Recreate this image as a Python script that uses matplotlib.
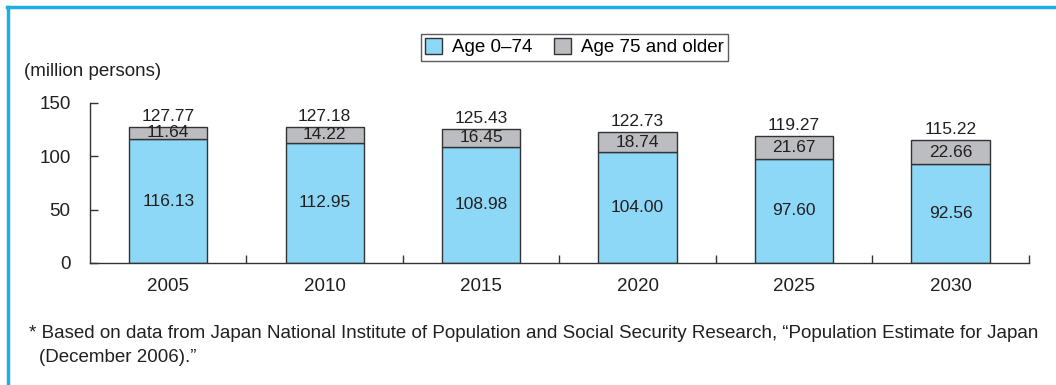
import matplotlib.pyplot as plt
from matplotlib.lines import Line2D
from matplotlib.patches import Patch
import numpy as np

years = ['2005', '2010', '2015', '2020', '2025', '2030']
age_0_74 = [116.13, 112.95, 108.98, 104.00, 97.60, 92.56]
age_75_up = [11.64, 14.22, 16.45, 18.74, 21.67, 22.66]
totals = [127.77, 127.18, 125.43, 122.73, 119.27, 115.22]

blue = '#8DD8F7'
gray = '#BCBDC0'
edge = '#333333'
txt = '#231F20'

plt.rcParams['font.family'] = ['Liberation Sans', 'DejaVu Sans']

fig = plt.figure(figsize=(10.56, 3.85), dpi=100)
ax = fig.add_axes([0.0852, 0.3169, 0.8890, 0.4156])

x = np.arange(len(years))
ax.bar(x, age_0_74, width=0.5, color=blue, edgecolor=edge, linewidth=1.0)
ax.bar(x, age_75_up, width=0.5, bottom=age_0_74, color=gray, edgecolor=edge, linewidth=1.0)

# labels inside and above bars
for i in range(len(years)):
    ax.text(x[i], age_0_74[i] / 2, f'{age_0_74[i]:.2f}', ha='center', va='center',
            fontsize=12.5, color=txt)
    ax.text(x[i], age_0_74[i] + age_75_up[i] / 2, f'{age_75_up[i]:.2f}', ha='center',
            va='center', fontsize=12.5, color=txt)
    ax.text(x[i], totals[i] + 3, f'{totals[i]:.2f}', ha='center', va='bottom',
            fontsize=12.5, color=txt)

ax.set_xlim(-0.5, 5.5)
ax.set_ylim(0, 150)
ax.set_yticks([0, 50, 100, 150])
ax.set_xticks(x)
ax.set_xticklabels(years)
ax.set_xticks(np.arange(0.5, 6, 1), minor=True)
ax.tick_params(axis='x', which='major', length=0, pad=11, labelsize=13.5, labelcolor=txt)
ax.tick_params(axis='x', which='minor', direction='in', length=6, width=1, color=edge)
ax.tick_params(axis='y', direction='in', length=6, width=1, color=edge, pad=14,
               labelsize=13.5, labelcolor=txt)
for s in ['top', 'right']:
    ax.spines[s].set_visible(False)
for s in ['left', 'bottom']:
    ax.spines[s].set_color(edge)
    ax.spines[s].set_linewidth(1)

fig.text(0.023, 0.815, '(million persons)', fontsize=13.5, color=txt, ha='left', va='center')

handles = [Patch(facecolor=blue, edgecolor=edge, label='Age 0\u201374'),
           Patch(facecolor=gray, edgecolor=edge, label='Age 75 and older')]
fig.legend(handles=handles, loc='center', bbox_to_anchor=(0.544, 0.877), ncol=2,
           frameon=True, fancybox=False, edgecolor=edge, fontsize=13.5,
           handlelength=0.9, handleheight=0.9, handletextpad=0.5, columnspacing=1.2,
           borderpad=0.25)

fig.text(0.027, 0.135, '* Based on data from Japan National Institute of Population and Social '
         'Security Research, \u201cPopulation Estimate for Japan', fontsize=13.5, color=txt,
         ha='left', va='center')
fig.text(0.037, 0.072, '(December 2006).\u201d', fontsize=13.5, color=txt, ha='left', va='center')

# frame lines (left and top)
fig.add_artist(Line2D([0.0075, 0.0075], [0, 0.981], color='#1EAEE6', lw=2.5,
                      transform=fig.transFigure))
fig.add_artist(Line2D([0.0063, 1.0], [0.981, 0.981], color='#1EAEE6', lw=2.5,
                      transform=fig.transFigure))

fig.savefig('out.png', dpi=100)
